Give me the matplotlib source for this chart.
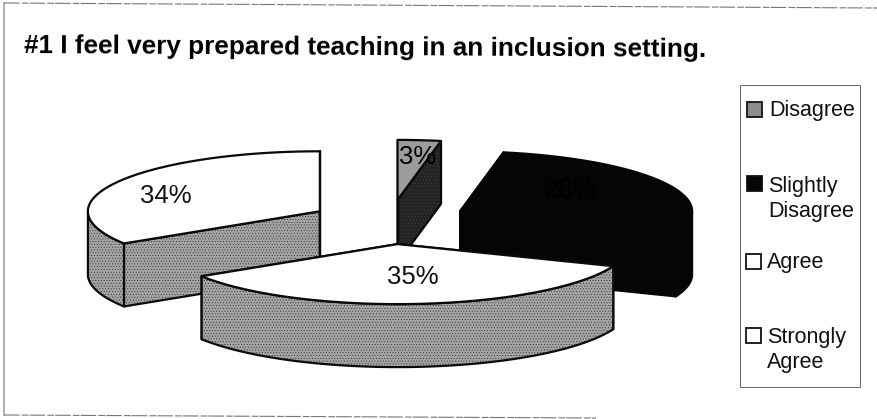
import numpy as np
import matplotlib
matplotlib.use('Agg')
import matplotlib.pyplot as plt
from matplotlib.patches import Polygon, Rectangle

plt.rcParams['font.family'] = ['Liberation Sans', 'DejaVu Sans']
plt.rcParams['hatch.linewidth'] = 0.4

categories = ['Disagree', 'Slightly\nDisagree', 'Agree', 'Strongly\nAgree']
shares = [3, 28, 35, 34]
title = '#1 I feel very prepared teaching in an inclusion setting.'

# pie geometry, in picture pixels
CX, CY = 390, 222
RX, RY = 232, 60
DEPTH = 63
EXPLODE_X, EXPLODE_Y = 0.345, 0.37
START = 0

top_colors = ['#9c9c9c', '#050505', '#ffffff', '#ffffff']
wall_colors = ['#242424', '#050505', '#a4a4a4', '#a4a4a4']
edge_colors = ['#0a0a0a', '#050505', '#0a0a0a', '#0a0a0a']
wall_hatch = ['.....', None, '......', '......']
label_pos = [(418, 157), (570, 190), (413, 277), (166, 196)]
label_colors = ['#000000', '#000000', '#111111', '#111111']
legend_y = [109, 184, 261, 335]
legend_x = [747, 747, 746, 746]
legend_text_x = [769, 768, 767, 767]
legend_text_y = [110, 199, 262, 350]
legend_colors = ['#8c8c8c', '#060606', '#ffffff', '#ffffff']

fig = plt.figure(figsize=(8.77, 4.19), dpi=100)
ax = fig.add_axes([0, 0, 1, 1])
ax.set_xlim(0, 877)
ax.set_ylim(419, 0)
ax.axis('off')


def rim(apex, t):
    t = np.radians(t)
    return apex[0] + RX * np.sin(t), apex[1] - RY * np.cos(t)


def quad(pts, color, hatch, edge, z):
    ax.add_patch(Polygon(pts, closed=True, facecolor=color, edgecolor='#3a3a3a' if hatch else 'none',
                         hatch=hatch, lw=0, zorder=z))
    ax.add_patch(Polygon(pts, closed=True, fill=False, edgecolor=edge, lw=1.6,
                         joinstyle='round', zorder=z + 0.01))


def draw_slice(i, a0, a1, z):
    mid = np.radians((a0 + a1) / 2)
    apex = (CX + EXPLODE_X * RX * np.sin(mid), CY - EXPLODE_Y * RY * np.cos(mid))
    ts = np.linspace(a0, a1, 80)
    arc = [rim(apex, t) for t in ts]

    # flat walls first, the one further back goes under
    for p in sorted([arc[0], arc[-1]], key=lambda q: q[1]):
        low = [(p[0], p[1] + DEPTH), (apex[0], apex[1] + DEPTH)]
        quad([apex, p, low[0], low[1]], wall_colors[i], wall_hatch[i], edge_colors[i], z)

    # curved wall, only the part facing the viewer
    front = [t for t in ts if 90 <= t <= 270]
    if front:
        upper = [rim(apex, t) for t in front]
        lower = [(x, y + DEPTH) for x, y in upper]
        quad(upper + lower[::-1], wall_colors[i], wall_hatch[i], edge_colors[i], z + 0.1)

    quad([apex] + arc, top_colors[i], None, edge_colors[i], z + 0.2)


angles = START + np.cumsum([0] + shares) * 3.6
draw_order = [0, 1, 3, 2]
for n, i in enumerate(draw_order):
    draw_slice(i, angles[i], angles[i + 1], n + 1)

for i, s in enumerate(shares):
    ax.text(label_pos[i][0], label_pos[i][1], f'{s}%', fontsize=18.5, color=label_colors[i],
            ha='center', va='center', zorder=10)

ax.text(24, 53, title, fontsize=18.8, fontweight='bold', color='#000000', ha='left', va='baseline',
        rotation=-0.33, rotation_mode='anchor')

# legend box and entries
ax.add_patch(Rectangle((740, 85), 120, 302, fill=False, edgecolor='#666666', lw=0.7, zorder=1))
for i, cat in enumerate(categories):
    ax.add_patch(Rectangle((legend_x[i], legend_y[i] - 7.5), 15, 15, facecolor=legend_colors[i],
                           edgecolor='#111111', lw=1.3, zorder=2))
    ax.text(legend_text_x[i], legend_text_y[i], cat, fontsize=15.5, color='#111111', ha='left', va='center',
            linespacing=1.3, zorder=2)

# scanned page frame, slightly skewed
frame = dict(color='#777777', lw=0.8, ls=(0, (14, 2, 6, 1)))
ax.plot([4, 4], [3, 415], color='#9a9a9a', lw=1.1)
ax.plot([4, 877], [3, 8], **frame)
ax.plot([4, 596], [415, 418], **frame)

fig.savefig('out.png', dpi=100)
